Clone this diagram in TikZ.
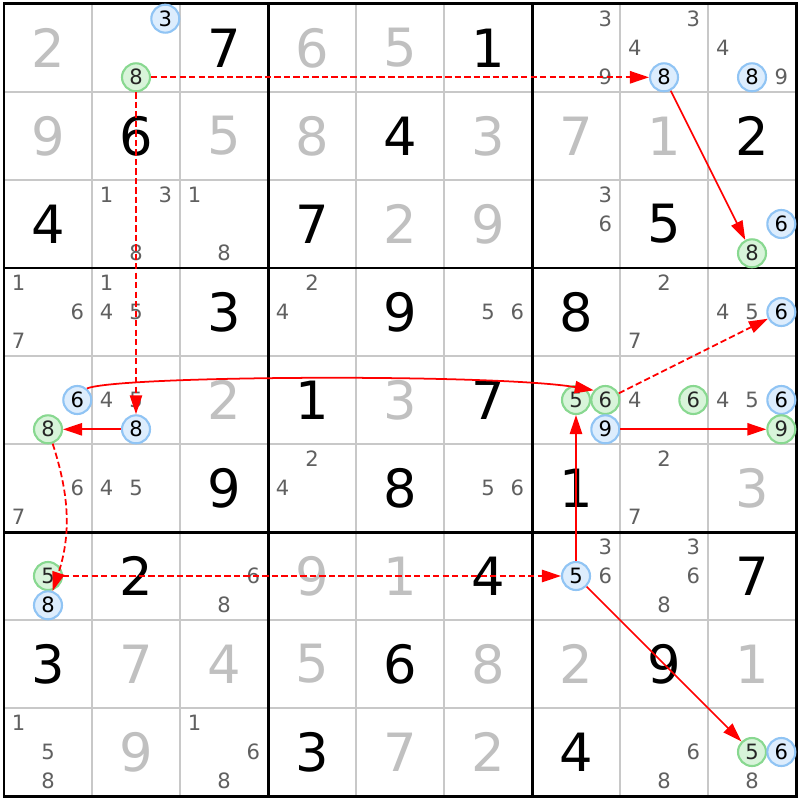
\documentclass[tikz,border=0pt]{standalone}
\usepackage{fontspec}
\setmainfont{DejaVu Sans}
\usetikzlibrary{arrows.meta}
\definecolor{candgray}{HTML}{606060}
\definecolor{solvedgray}{HTML}{C0C0C0}
\definecolor{gridgray}{HTML}{C8C8C8}
\definecolor{bluefill}{HTML}{DDEDFD}
\definecolor{blueline}{HTML}{90C4F4}
\definecolor{greenfill}{HTML}{D8F4DA}
\definecolor{greenline}{HTML}{88D890}
\tikzset{
  given/.style={inner sep=0pt,font=\fontsize{15pt}{15pt}\selectfont,text=black},
  solved/.style={inner sep=0pt,font=\fontsize{15pt}{15pt}\selectfont,text=solvedgray},
  cand/.style={inner sep=0pt,font=\fontsize{6pt}{6pt}\selectfont,text=candgray},
  bluecand/.style={circle,draw=blueline,fill=bluefill,line width=0.6pt,inner sep=0pt,minimum size=0.28cm,font=\fontsize{6pt}{6pt}\selectfont,text=black},
  greencand/.style={circle,draw=greenline,fill=greenfill,line width=0.6pt,inner sep=0pt,minimum size=0.28cm,font=\fontsize{6pt}{6pt}\selectfont,text=black!85},
  link/.style={red,line width=0.5pt,-{Triangle[length=5.4pt,width=3.5pt]}},
  weaklink/.style={link,dash pattern=on 1.8pt off 0.9pt}
}
\begin{document}
\begin{tikzpicture}[x=0.88cm,y=-0.88cm]
\useasboundingbox[fill=white] (-0.04cm,0.04cm) rectangle (7.96cm,-7.96cm);

% grid
\foreach \i in {1,2,4,5,7,8}{
  \draw[gridgray,line width=0.45pt] (\i,0)--(\i,9);
  \draw[gridgray,line width=0.45pt] (0,\i)--(9,\i);
}
\foreach \i in {3,6}{
  \draw[black,line width=0.85pt] (\i,0)--(\i,9);
  \draw[black,line width=0.85pt] (0,\i)--(9,\i);
}
\draw[black,line width=0.85pt] (0,0) rectangle (9,9);

% row 0
\node[solved] (r0c0) at (0.5,0.5) {2};
\node[bluecand] (r0c1_3) at (1.833,0.167) {3};
\node[greencand] (r0c1_8) at (1.5,0.833) {8};
\node[given] (r0c2) at (2.5,0.5) {7};
\node[solved] (r0c3) at (3.5,0.5) {6};
\node[solved] (r0c4) at (4.5,0.5) {5};
\node[given] (r0c5) at (5.5,0.5) {1};
\node[cand] (r0c6_3) at (6.833,0.167) {3};
\node[cand] (r0c6_9) at (6.833,0.833) {9};
\node[cand] (r0c7_3) at (7.833,0.167) {3};
\node[cand] (r0c7_4) at (7.167,0.5) {4};
\node[bluecand] (r0c7_8) at (7.5,0.833) {8};
\node[cand] (r0c8_4) at (8.167,0.5) {4};
\node[bluecand] (r0c8_8) at (8.5,0.833) {8};
\node[cand] (r0c8_9) at (8.833,0.833) {9};

% row 1
\node[solved] (r1c0) at (0.5,1.5) {9};
\node[given] (r1c1) at (1.5,1.5) {6};
\node[solved] (r1c2) at (2.5,1.5) {5};
\node[solved] (r1c3) at (3.5,1.5) {8};
\node[given] (r1c4) at (4.5,1.5) {4};
\node[solved] (r1c5) at (5.5,1.5) {3};
\node[solved] (r1c6) at (6.5,1.5) {7};
\node[solved] (r1c7) at (7.5,1.5) {1};
\node[given] (r1c8) at (8.5,1.5) {2};

% row 2
\node[given] (r2c0) at (0.5,2.5) {4};
\node[cand] (r2c1_1) at (1.167,2.167) {1};
\node[cand] (r2c1_3) at (1.833,2.167) {3};
\node[cand] (r2c1_8) at (1.5,2.833) {8};
\node[cand] (r2c2_1) at (2.167,2.167) {1};
\node[cand] (r2c2_8) at (2.5,2.833) {8};
\node[given] (r2c3) at (3.5,2.5) {7};
\node[solved] (r2c4) at (4.5,2.5) {2};
\node[solved] (r2c5) at (5.5,2.5) {9};
\node[cand] (r2c6_3) at (6.833,2.167) {3};
\node[cand] (r2c6_6) at (6.833,2.5) {6};
\node[given] (r2c7) at (7.5,2.5) {5};
\node[bluecand] (r2c8_6) at (8.833,2.5) {6};
\node[greencand] (r2c8_8) at (8.5,2.833) {8};

% row 3
\node[cand] (r3c0_1) at (0.167,3.167) {1};
\node[cand] (r3c0_6) at (0.833,3.5) {6};
\node[cand] (r3c0_7) at (0.167,3.833) {7};
\node[cand] (r3c1_1) at (1.167,3.167) {1};
\node[cand] (r3c1_4) at (1.167,3.5) {4};
\node[cand] (r3c1_5) at (1.5,3.5) {5};
\node[given] (r3c2) at (2.5,3.5) {3};
\node[cand] (r3c3_2) at (3.5,3.167) {2};
\node[cand] (r3c3_4) at (3.167,3.5) {4};
\node[given] (r3c4) at (4.5,3.5) {9};
\node[cand] (r3c5_5) at (5.5,3.5) {5};
\node[cand] (r3c5_6) at (5.833,3.5) {6};
\node[given] (r3c6) at (6.5,3.5) {8};
\node[cand] (r3c7_2) at (7.5,3.167) {2};
\node[cand] (r3c7_7) at (7.167,3.833) {7};
\node[cand] (r3c8_4) at (8.167,3.5) {4};
\node[cand] (r3c8_5) at (8.5,3.5) {5};
\node[bluecand] (r3c8_6) at (8.833,3.5) {6};

% row 4
\node[bluecand] (r4c0_6) at (0.833,4.5) {6};
\node[greencand] (r4c0_8) at (0.5,4.833) {8};
\node[cand] (r4c1_4) at (1.167,4.5) {4};
\node[cand] (r4c1_5) at (1.5,4.5) {5};
\node[bluecand] (r4c1_8) at (1.5,4.833) {8};
\node[solved] (r4c2) at (2.5,4.5) {2};
\node[given] (r4c3) at (3.5,4.5) {1};
\node[solved] (r4c4) at (4.5,4.5) {3};
\node[given] (r4c5) at (5.5,4.5) {7};
\node[greencand] (r4c6_5) at (6.5,4.5) {5};
\node[greencand] (r4c6_6) at (6.833,4.5) {6};
\node[bluecand] (r4c6_9) at (6.833,4.833) {9};
\node[cand] (r4c7_4) at (7.167,4.5) {4};
\node[greencand] (r4c7_6) at (7.833,4.5) {6};
\node[cand] (r4c8_4) at (8.167,4.5) {4};
\node[cand] (r4c8_5) at (8.5,4.5) {5};
\node[bluecand] (r4c8_6) at (8.833,4.5) {6};
\node[greencand] (r4c8_9) at (8.833,4.833) {9};

% row 5
\node[cand] (r5c0_6) at (0.833,5.5) {6};
\node[cand] (r5c0_7) at (0.167,5.833) {7};
\node[cand] (r5c1_4) at (1.167,5.5) {4};
\node[cand] (r5c1_5) at (1.5,5.5) {5};
\node[given] (r5c2) at (2.5,5.5) {9};
\node[cand] (r5c3_2) at (3.5,5.167) {2};
\node[cand] (r5c3_4) at (3.167,5.5) {4};
\node[given] (r5c4) at (4.5,5.5) {8};
\node[cand] (r5c5_5) at (5.5,5.5) {5};
\node[cand] (r5c5_6) at (5.833,5.5) {6};
\node[given] (r5c6) at (6.5,5.5) {1};
\node[cand] (r5c7_2) at (7.5,5.167) {2};
\node[cand] (r5c7_7) at (7.167,5.833) {7};
\node[solved] (r5c8) at (8.5,5.5) {3};

% row 6
\node[greencand] (r6c0_5) at (0.5,6.5) {5};
\node[bluecand] (r6c0_8) at (0.5,6.833) {8};
\node[given] (r6c1) at (1.5,6.5) {2};
\node[cand] (r6c2_6) at (2.833,6.5) {6};
\node[cand] (r6c2_8) at (2.5,6.833) {8};
\node[solved] (r6c3) at (3.5,6.5) {9};
\node[solved] (r6c4) at (4.5,6.5) {1};
\node[given] (r6c5) at (5.5,6.5) {4};
\node[cand] (r6c6_3) at (6.833,6.167) {3};
\node[bluecand] (r6c6_5) at (6.5,6.5) {5};
\node[cand] (r6c6_6) at (6.833,6.5) {6};
\node[cand] (r6c7_3) at (7.833,6.167) {3};
\node[cand] (r6c7_6) at (7.833,6.5) {6};
\node[cand] (r6c7_8) at (7.5,6.833) {8};
\node[given] (r6c8) at (8.5,6.5) {7};

% row 7
\node[given] (r7c0) at (0.5,7.5) {3};
\node[solved] (r7c1) at (1.5,7.5) {7};
\node[solved] (r7c2) at (2.5,7.5) {4};
\node[solved] (r7c3) at (3.5,7.5) {5};
\node[given] (r7c4) at (4.5,7.5) {6};
\node[solved] (r7c5) at (5.5,7.5) {8};
\node[solved] (r7c6) at (6.5,7.5) {2};
\node[given] (r7c7) at (7.5,7.5) {9};
\node[solved] (r7c8) at (8.5,7.5) {1};

% row 8
\node[cand] (r8c0_1) at (0.167,8.167) {1};
\node[cand] (r8c0_5) at (0.5,8.5) {5};
\node[cand] (r8c0_8) at (0.5,8.833) {8};
\node[solved] (r8c1) at (1.5,8.5) {9};
\node[cand] (r8c2_1) at (2.167,8.167) {1};
\node[cand] (r8c2_6) at (2.833,8.5) {6};
\node[cand] (r8c2_8) at (2.5,8.833) {8};
\node[given] (r8c3) at (3.5,8.5) {3};
\node[solved] (r8c4) at (4.5,8.5) {7};
\node[solved] (r8c5) at (5.5,8.5) {2};
\node[given] (r8c6) at (6.5,8.5) {4};
\node[cand] (r8c7_6) at (7.833,8.5) {6};
\node[cand] (r8c7_8) at (7.5,8.833) {8};
\node[greencand] (r8c8_5) at (8.5,8.5) {5};
\node[bluecand] (r8c8_6) at (8.833,8.5) {6};
\node[cand] (r8c8_8) at (8.5,8.833) {8};

% chain
\draw[weaklink] (r0c1_8)--(r0c7_8);
\draw[link] (r0c7_8)--(r2c8_8);
\draw[weaklink] (r0c1_8)--(r4c1_8);
\draw[link] (r4c1_8)--(r4c0_8);
\draw[weaklink] (r4c0_8) to[bend left=18] (r6c0_8);
\draw[weaklink] (r6c0_5)--(r6c6_5);
\draw[link] (r6c6_5)--(r4c6_5);
\draw[link] (r6c6_5)--(r8c8_5);
\draw[link] (r4c0_6.50) .. controls (1.3,4.22) and (5.6,4.2) .. (r4c6_6.140);
\draw[weaklink] (r4c6_6)--(r3c8_6);
\draw[link] (r4c6_9)--(r4c8_9);
\end{tikzpicture}
\end{document}
